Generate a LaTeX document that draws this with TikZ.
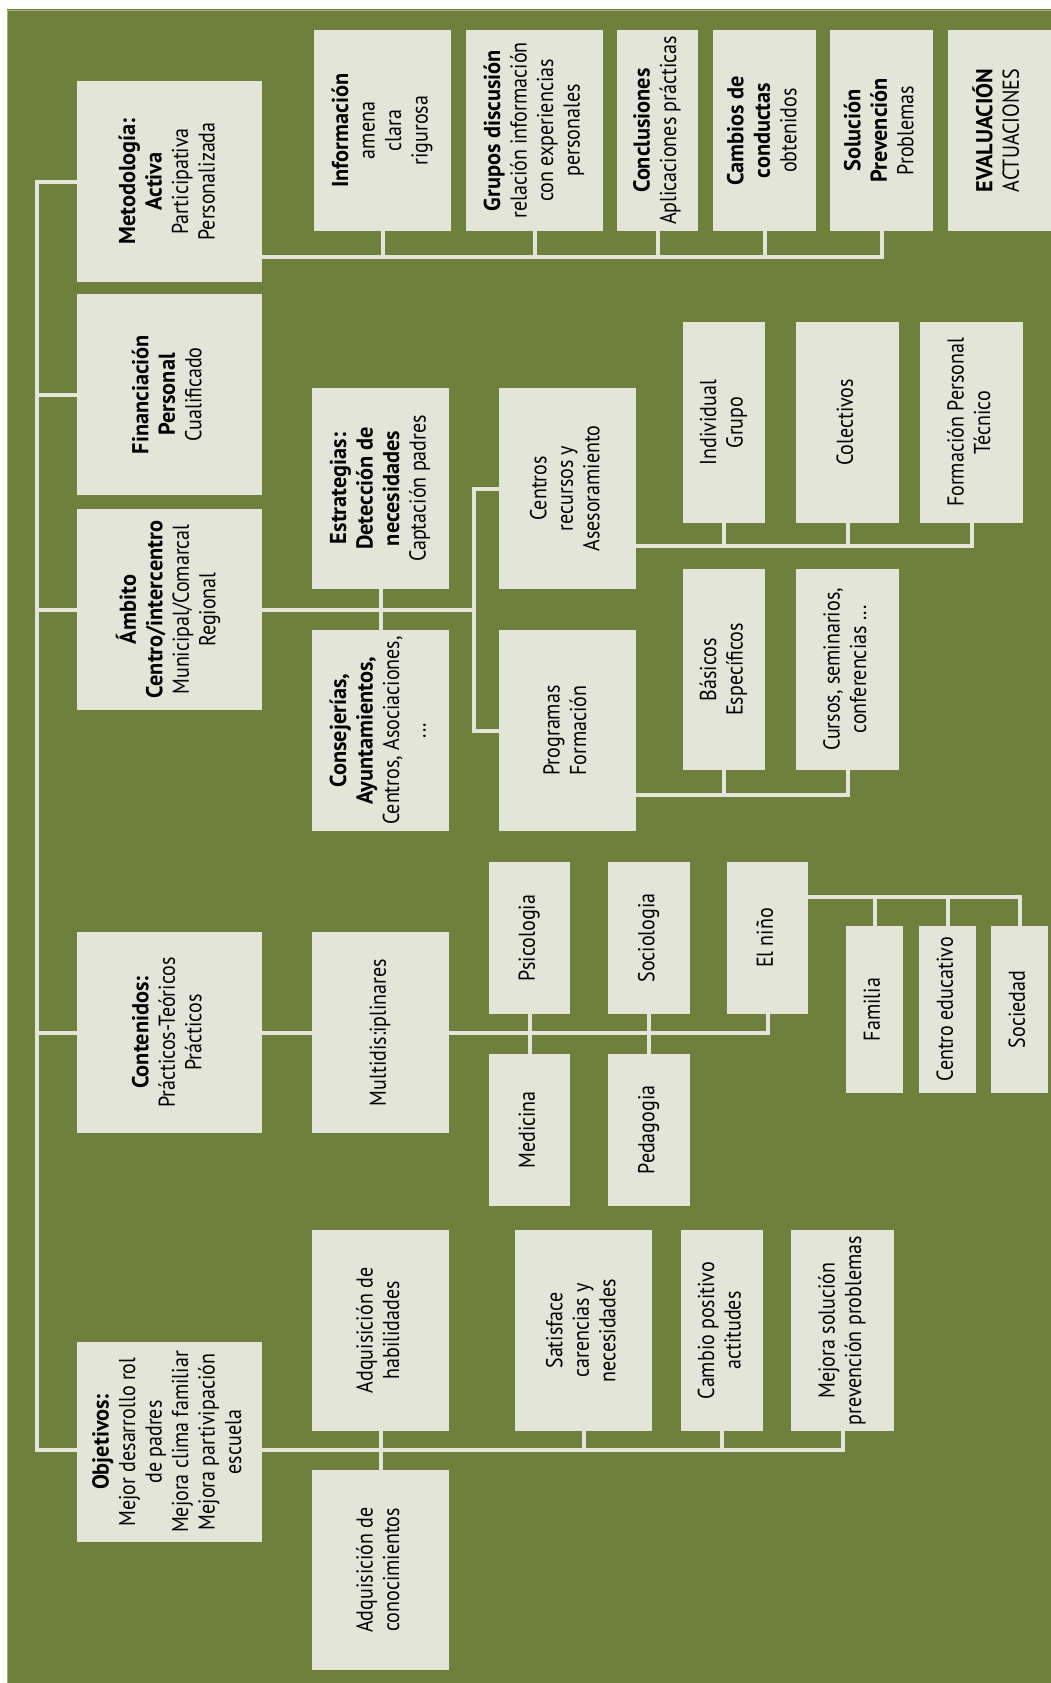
\documentclass[tikz,border=0pt]{standalone}
\usepackage{fontspec}
\setmainfont{PT Sans}[FakeStretch=0.87,BoldFeatures={FakeStretch=0.97}]
\usepackage{graphicx}
\definecolor{bg}{RGB}{111,127,60}
\definecolor{boxc}{RGB}{226,229,216}
\definecolor{rim}{RGB}{165,176,125}
\tikzset{
  box/.style={fill=boxc, inner sep=0pt, outer sep=0pt, text=black, font=\fontsize{23}{26.5}\selectfont},
  conn/.style={draw=boxc, line width=4pt, line join=miter}
}
\newcommand\dbox[6]{%
  \pgfmathsetmacro\dbw{#4-#2}\pgfmathsetmacro\dbh{#5-#3}%
  \node[box, minimum width=\dbw pt, minimum height=\dbh pt] (#1) at ({(#2+#4)/2},{(#3+#5)/2})
    {\rotatebox{90}{\begin{tabular}{@{}c@{}}#6\end{tabular}}};}
\begin{document}
\begin{tikzpicture}[x=1pt,y=-1pt]
\useasboundingbox (0,0) rectangle (1051,1683);
\fill[white] (0,0) rectangle (1051,1683);
\fill[bg] (6.5,9.5) rectangle (1051,1683);
\draw[rim, line width=1pt] (7.5,1683) -- (7.5,10.5) -- (1051,10.5);

% level 1
\dbox{meto}{77}{81}{262}{282}{\textbf{Metodología:}\\\textbf{Activa}\\Participativa\\Personalizada}
\dbox{fin}{77}{294}{262}{495}{\textbf{Financiación}\\\textbf{Personal}\\Cualificado}
\dbox{amb}{77}{509}{262}{710}{\textbf{Ámbito}\\\textbf{Centro/intercentro}\\Municipal/Comarcal\\Regional}
\dbox{cont}{77}{932}{262}{1133}{\textbf{Contenidos:}\\Prácticos-Teóricos\\Prácticos}
\dbox{obj}{77}{1342}{262}{1542}{\textbf{Objetivos:}\\Mejor desarrollo rol\\de padres\\Mejora clima familiar\\Mejora partivipación\\escuela}

% metodologia children
\dbox{info}{314}{30}{451}{231}{\textbf{Información}\\amena\\clara\\rigurosa}
\dbox{grup}{466}{30}{603}{231}{\textbf{Grupos discusión}\\relación información\\con experiencias\\personales}
\dbox{concl}{617}{30}{698}{231}{\textbf{Conclusiones}\\Aplicaciones prácticas}
\dbox{camb}{713}{30}{816}{231}{\textbf{Cambios de}\\\textbf{conductas}\\obtenidos}
\dbox{sol}{830}{30}{933}{231}{\textbf{Solución}\\\textbf{Prevención}\\Problemas}
\dbox{eval}{948}{30}{1051}{231}{\textbf{EVALUACIÓN}\\ACTUACIONES}

% ambito children
\dbox{est}{312}{388}{449}{589}{\textbf{Estrategias:}\\\textbf{Detección de}\\\textbf{necesidades}\\Captación padres}
\dbox{cons}{312}{630}{449}{831}{\textbf{Consejerías,}\\\textbf{Ayuntamientos,}\\Centros, Asociaciones,\\...}
\dbox{cen}{499}{388}{636}{589}{Centros\\recursos y\\Asesoramiento}
\dbox{prog}{499}{630}{636}{831}{Programas\\Formación}
\dbox{ind}{683}{322}{765}{523}{Individual\\Grupo}
\dbox{col}{796}{322}{899}{523}{Colectivos}
\dbox{form}{920}{322}{1023}{523}{Formación Personal\\Técnico}
\dbox{bas}{683}{569}{765}{770}{Básicos\\Específicos}
\dbox{cur}{796}{569}{899}{770}{Cursos, seminarios,\\conferencias ...}

% contenidos children
\dbox{mult}{312}{932}{449}{1133}{Multidis:iplinares}
\dbox{psi}{489}{862}{570}{1014}{Psicologia}
\dbox{med}{489}{1054}{570}{1206}{Medicina}
\dbox{soc}{608}{862}{690}{1014}{Sociologia}
\dbox{ped}{608}{1054}{690}{1206}{Pedagogia}
\dbox{nino}{727}{862}{808}{1014}{El niño}
\dbox{fam}{846}{926}{903}{1093}{Familia}
\dbox{cedu}{919}{926}{976}{1093}{Centro educativo}
\dbox{socd}{991}{926}{1048}{1093}{Sociedad}

% objetivos children
\dbox{hab}{312}{1230}{449}{1431}{Adquisición de\\habilidades}
\dbox{cono}{312}{1470}{449}{1670}{Adquisición de\\conocimientos}
\dbox{sat}{515}{1230}{652}{1431}{Satisface\\carencias y\\necesidades}
\dbox{cpos}{681}{1230}{763}{1431}{Cambio positivo\\actitudes}
\dbox{mej}{791}{1230}{894}{1431}{Mejora solución\\prevención problemas}

% bus coordinates
\coordinate (spB) at (37,1450);
\coordinate (bM) at (0,257);
\coordinate (bC) at (0,546);
\coordinate (bP) at (0,795);
\coordinate (bN) at (0,897);
\coordinate (bO) at (0,1450);
\coordinate (jA) at (474,610);

% spine
\draw[conn] (meto.west) -| (spB) -- (obj.west |- bO);
\draw[conn] (fin.west) -- (fin.west -| spB);
\draw[conn] (amb.west) -- (amb.west -| spB);
\draw[conn] (cont.west) -- (cont.west -| spB);

% metodologia bus
\draw[conn] (meto.east |- bM) -| (sol.south);
\foreach \n in {info,grup,concl,camb} \draw[conn] (\n.south) -- (\n.south |- bM);

% ambito
\draw[conn] (amb.east) -- (amb.east -| jA);
\draw[conn] (cen.west) -| (jA) |- (prog.west);
\draw[conn] (est.south) -- (cons.north);
\draw[conn] (cen.east |- bC) -| (form.south);
\foreach \n in {ind,col} \draw[conn] (\n.south) -- (\n.south |- bC);
\draw[conn] (prog.east |- bP) -| (cur.south);
\draw[conn] (bas.south) -- (bas.south |- bP);

% contenidos
\draw[conn] (cont.east) -- (mult.west);
\draw[conn] (mult.east) -| (nino.south);
\draw[conn] (psi.south) -- (med.north);
\draw[conn] (soc.south) -- (ped.north);
\draw[conn] (nino.east |- bN) -| (socd.north);
\foreach \n in {fam,cedu} \draw[conn] (\n.north) -- (\n.north |- bN);

% objetivos
\draw[conn] (obj.east |- bO) -| (mej.south);
\draw[conn] (hab.south) -- (cono.north);
\foreach \n in {sat,cpos} \draw[conn] (\n.south) -- (\n.south |- bO);
\end{tikzpicture}
\end{document}
